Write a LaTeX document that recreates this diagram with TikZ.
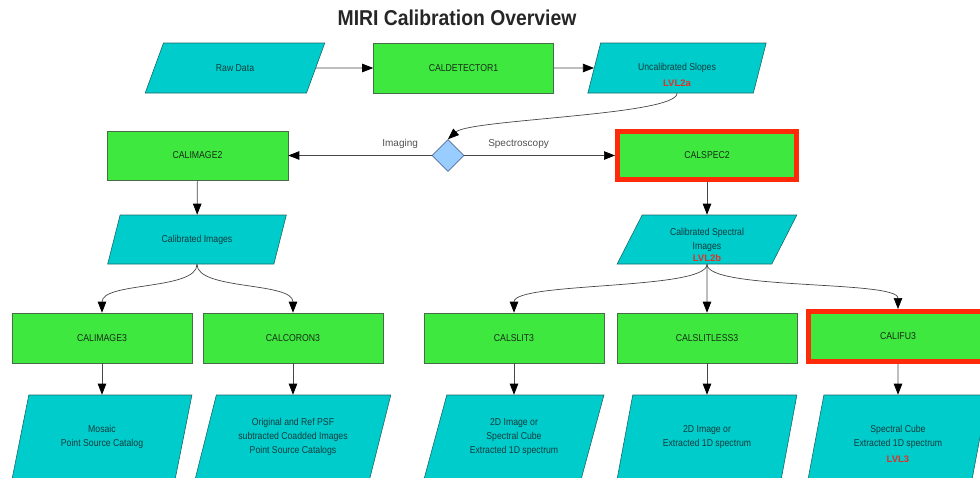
\documentclass[tikz,border=0pt]{standalone}
\usepackage{fontspec}
\setmainfont{Liberation Sans}
\newfontfamily\narrowfont[FakeStretch=0.87]{Liberation Sans}
\newfontfamily\titlefont[FakeStretch=0.9]{Liberation Sans}
\usetikzlibrary{shapes.geometric,arrows.meta}
\definecolor{boxgreen}{RGB}{62,232,62}
\definecolor{boxborder}{RGB}{70,110,70}
\definecolor{boxtext}{RGB}{25,45,25}
\definecolor{datacyan}{RGB}{0,204,204}
\definecolor{databorder}{RGB}{25,105,105}
\definecolor{datatext}{RGB}{20,60,60}
\definecolor{redborder}{RGB}{255,42,10}
\definecolor{lvlred}{RGB}{222,50,40}
\definecolor{linegray}{RGB}{70,70,70}
\definecolor{diafill}{RGB}{153,204,255}
\definecolor{diaborder}{RGB}{80,110,150}
\definecolor{labgray}{RGB}{80,80,80}
\tikzset{
  proc/.style={draw=boxborder, fill=boxgreen, line width=0.6pt, minimum width=180pt, minimum height=50pt, inner sep=0pt, font=\narrowfont\fontsize{10}{12}\selectfont, text=boxtext},
  redproc/.style={proc, draw=redborder, line width=5pt, minimum width=179pt, minimum height=48pt},
  datashape/.style={trapezium, trapezium left angle=55, trapezium right angle=125, trapezium stretches=true, draw=databorder, fill=datacyan, line width=0.6pt, minimum width=180pt, minimum height=50pt, inner sep=0pt, align=center, font=\narrowfont\fontsize{10}{14}\selectfont, text=datatext},
  datamid/.style={datashape, trapezium left angle=58.5, trapezium right angle=121.5, minimum height=49pt},
  databot/.style={datashape, trapezium left angle=68, trapezium right angle=112, minimum height=84pt},
  decision/.style={diamond, draw=diaborder, fill=diafill, line width=0.6pt, minimum width=32pt, minimum height=32pt, inner sep=0pt},
  conn/.style={draw=linegray, line width=0.7pt, -{Triangle[length=11pt,width=8.5pt,color=black]}},
  lab/.style={font=\fontsize{10}{12}\selectfont, text=labgray},
  lvl/.style={font=\bfseries\fontsize{9.5}{11}\selectfont, text=lvlred, inner sep=0pt},
}
\begin{document}
\begin{tikzpicture}[x=1pt, y=-1pt]
\useasboundingbox (0,0) rectangle (980,477);
\clip (0,0) rectangle (980,477);
\node[font=\titlefont\bfseries\fontsize{21.5}{24}\selectfont, text=black!85] (title) at (457,18) {MIRI Calibration Overview};
% top row
\node[datashape] (raw) at (235,68) {Raw Data};
\node[proc] (det) at (463.5,68) {CALDETECTOR1};
\node[datashape] (unc) at (677,68) {Uncalibrated Slopes};
\node[lvl] (lvla) at (677,83) {LVL2a};
% decision row
\node[decision] (dia) at (448,155.5) {};
\node[proc, minimum width=181pt, minimum height=49pt] (img2) at (197.5,155.5) {CALIMAGE2};
\node[redproc] (spec2) at (707,155.5) {CALSPEC2};
% middle row
\node[datamid] (cimg) at (197,239.5) {Calibrated Images};
\node[datamid] (cspec) at (707,239.5) {Calibrated Spectral\\Images};
\node[lvl] (lvlb) at (707,258) {LVL2b};
% stage 3 row
\node[proc] (im3) at (102,338) {CALIMAGE3};
\node[proc] (cor3) at (293,338) {CALCORON3};
\node[proc] (slit3) at (514,338) {CALSLIT3};
\node[proc] (sless3) at (707,338) {CALSLITLESS3};
\node[redproc, minimum width=180pt, minimum height=50pt] (ifu3) at (898,336.5) {CALIFU3};
% outputs
\node[databot] (mos) at (102,437) {Mosaic\\Point Source Catalog};
\node[databot, minimum width=196pt] (psf) at (293,437) {Original and Ref PSF\\subtracted Coadded Images\\Point Source Catalogs};
\node[databot] (out1) at (514,437) {2D Image or\\Spectral Cube\\Extracted 1D spectrum};
\node[databot] (out2) at (707,437) {2D Image or\\Extracted 1D spectrum};
\node[databot] (out3) at (898,437) {Spectral Cube\\Extracted 1D spectrum};
\node[lvl] (lvlc) at (898,459) {LVL3};
% connectors
\draw[conn] (raw) -- (det);
\draw[conn] (det) -- (unc);
\draw[conn] (unc.south) .. controls +(0,22) and +(22,-20) .. (dia.north);
\draw[conn] (dia) -- node[lab, pos=0.22, above=3pt] (limg) {Imaging} (img2);
\draw[conn] (dia) -- node[lab, pos=0.36, above=3pt] (lspec) {Spectroscopy} (spec2);
\draw[conn] (img2) -- (cimg);
\draw[conn] (spec2) -- (cspec);
\draw[conn] (cimg.south) .. controls +(0,26) and +(0,-31) .. (im3.north);
\draw[conn] (cimg.south) .. controls +(0,26) and +(0,-31) .. (cor3.north);
\draw[conn] (cspec.south) .. controls +(0,26) and +(0,-31) .. (slit3.north);
\draw[conn] (cspec.south) -- (sless3.north);
\draw[conn] (cspec.south) .. controls +(0,26) and +(0,-29) .. (ifu3.north);
\draw[conn] (im3) -- (mos);
\draw[conn] (cor3) -- (psf);
\draw[conn] (slit3) -- (out1);
\draw[conn] (sless3) -- (out2);
\draw[conn] (ifu3) -- (out3);
\end{tikzpicture}
\end{document}
